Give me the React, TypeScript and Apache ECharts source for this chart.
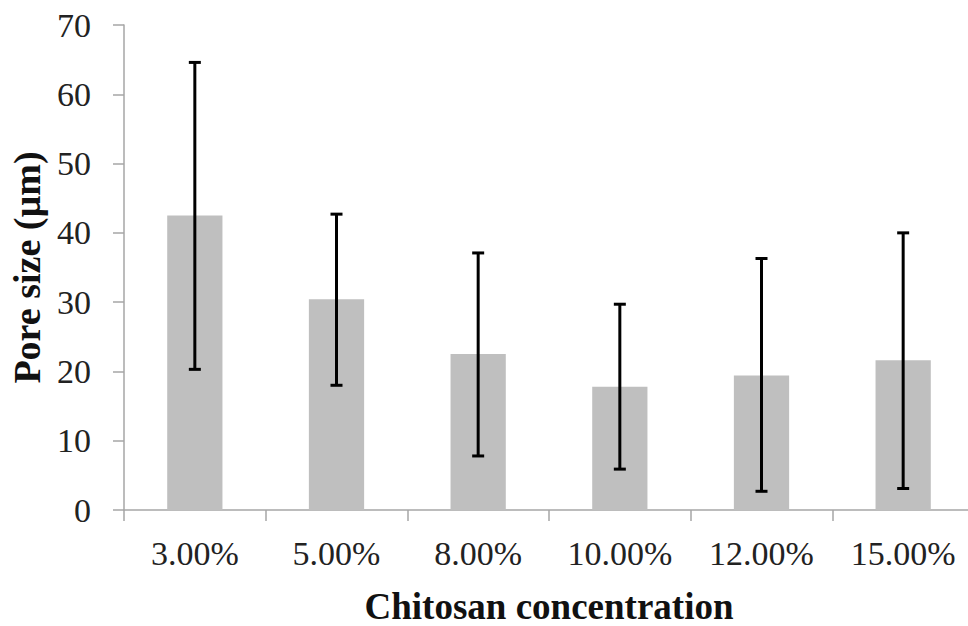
import React, { useEffect, useRef } from "react";
import * as echarts from "echarts";

const categories = ["3.00%", "5.00%", "8.00%", "10.00%", "12.00%", "15.00%"];
const meanValues = [42.5, 30.4, 22.5, 17.8, 19.4, 21.6];
const errLow = [20.3, 18.0, 7.8, 5.9, 2.7, 3.1];
const errHigh = [64.6, 42.7, 37.1, 29.7, 36.3, 40.0];
const yTicks = { min: 0, max: 70, interval: 10 };

export default function App() {
  const ref = useRef<HTMLDivElement>(null);
  useEffect(() => {
    if (!ref.current) return;
    const chart = echarts.init(ref.current, undefined, { renderer: "svg" });
    const errData = categories.map((_, i) => [i, errLow[i], errHigh[i]]);
    const font = "'Liberation Serif', 'Times New Roman', serif";
    chart.setOption({
      animation: false,
      backgroundColor: "#ffffff",
      grid: {
        left: 124,
        width: 850,
        top: 25,
        height: 485,
        containLabel: false,
        outerBoundsMode: "none",
      },
      xAxis: {
        type: "category",
        data: categories,
        name: "Chitosan concentration",
        nameLocation: "middle",
        nameGap: 78,
        nameTextStyle: { fontFamily: font, fontSize: 37, fontWeight: "bold", color: "#111" },
        axisLine: { lineStyle: { color: "#a6a6a6", width: 1.5 } },
        axisTick: { show: true, length: 11, alignWithLabel: false, lineStyle: { color: "#a6a6a6", width: 1.5 } },
        axisLabel: { fontFamily: font, fontSize: 34, color: "#222", margin: 26 },
      },
      yAxis: {
        type: "value",
        min: yTicks.min,
        max: yTicks.max,
        interval: yTicks.interval,
        name: "Pore size (µm)",
        nameLocation: "middle",
        nameGap: 78,
        nameRotate: 90,
        nameTextStyle: { fontFamily: font, fontSize: 38, fontWeight: "bold", color: "#111" },
        axisLine: { show: true, lineStyle: { color: "#a6a6a6", width: 1.5 } },
        axisTick: { show: true, length: 11, lineStyle: { color: "#a6a6a6", width: 1.5 } },
        splitLine: { show: false },
        axisLabel: { fontFamily: font, fontSize: 34, color: "#222", margin: 33 },
      },
      series: [
        {
          type: "bar",
          data: meanValues,
          barWidth: "39%",
          itemStyle: { color: "#bfbfbf" },
          z: 1,
        },
        {
          type: "custom",
          data: errData,
          z: 5,
          renderItem: (params: any, api: any) => {
            const x = api.value(0);
            const lo = api.coord([x, api.value(1)]);
            const hi = api.coord([x, api.value(2)]);
            const cap = 6;
            const style = { stroke: "#000", lineWidth: 3 };
            return {
              type: "group",
              children: [
                { type: "line", shape: { x1: hi[0], y1: hi[1], x2: lo[0], y2: lo[1] }, style },
                { type: "line", shape: { x1: hi[0] - cap, y1: hi[1], x2: hi[0] + cap, y2: hi[1] }, style },
                { type: "line", shape: { x1: lo[0] - cap, y1: lo[1], x2: lo[0] + cap, y2: lo[1] }, style },
              ],
            };
          },
        },
      ],
    });
    return () => chart.dispose();
  }, []);
  return (
    <div
      ref={ref}
      style={{ position: "fixed", left: 0, top: 0, width: 968, height: 626 }}
    />
  );
}
